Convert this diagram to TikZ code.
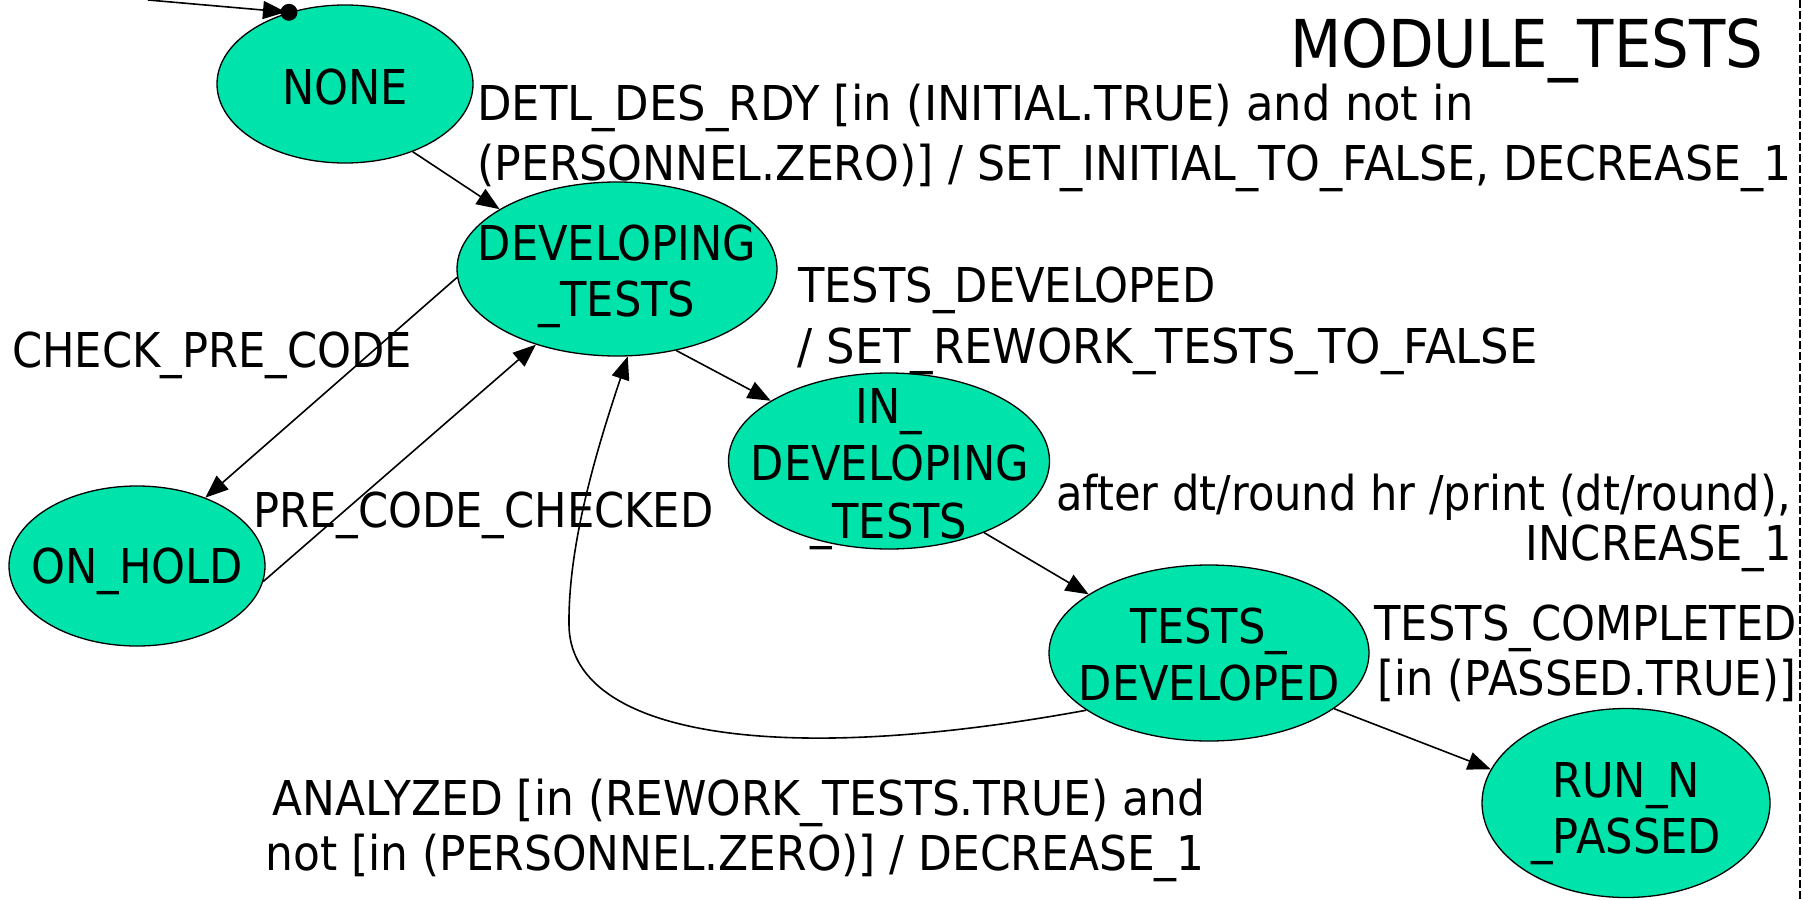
\documentclass[tikz,border=0pt]{standalone}
\usepackage{fontspec}
\setmainfont{DejaVu Sans}[FakeStretch=0.9]
\newfontfamily\lblwide{DejaVu Sans}[FakeStretch=0.935]
\newfontfamily\lbllong{DejaVu Sans}[FakeStretch=0.922]
\newfontfamily\lblmid{DejaVu Sans}[FakeStretch=0.915]
\usetikzlibrary{shapes.geometric,arrows.meta}
\definecolor{stategreen}{RGB}{0,227,170}
\begin{document}
\begin{tikzpicture}[x=1pt,y=-1pt,
  state/.style={ellipse, draw=black, line width=1.3pt, fill=stategreen, inner sep=0pt},
  txt/.style={font=\fontsize{48}{57}\selectfont, inner sep=0pt},
  widetxt/.style={font=\fontsize{48}{57}\lblwide, inner sep=0pt},
  longtxt/.style={font=\fontsize{48}{57}\lbllong, inner sep=0pt},
  midtxt/.style={font=\fontsize{48}{57}\lblmid, inner sep=0pt},
  arr/.style={line width=1.6pt, -{Triangle[length=23pt,width=18pt]}},
  frame/.style={line width=1.2pt, dash pattern=on 8pt off 3pt}
]
\useasboundingbox (0,0) rectangle (1803,899);

% module boundary
\draw[frame] (1800,0) -- (1800,899);

% states
\node[state, minimum width=256pt, minimum height=158pt] (none)  at (345,84)  {};
\node[state, minimum width=320pt, minimum height=174pt] (dev)   at (617,269) {};
\node[state, minimum width=256pt, minimum height=160pt] (hold)  at (137,566) {};
\node[state, minimum width=321pt, minimum height=176pt] (indev) at (889,461) {};
\node[state, minimum width=320pt, minimum height=176pt] (tdev)  at (1209,653) {};
\node[state, minimum width=288pt, minimum height=189pt] (run)   at (1626,803) {};

% state names
\node[txt, anchor=base] (noneA)  at (345,104) {NONE};
\node[txt, anchor=base] (devA)   at (617,260) {DEVELOPING};
\node[txt, anchor=base] (devB)   at (617,316) {\_TESTS};
\node[txt, anchor=base] (holdA)  at (137,583) {ON\_HOLD};
\node[txt, anchor=base] (indevA) at (889,423) {IN\_};
\node[txt, anchor=base] (indevB) at (890,480) {DEVELOPING};
\node[txt, anchor=base] (indevC) at (889,538) {\_TESTS};
\node[txt, anchor=base] (tdevA)  at (1209,643) {TESTS\_};
\node[txt, anchor=base] (tdevB)  at (1209,700) {DEVELOPED};
\node[txt, anchor=base] (runA)   at (1626,797) {RUN\_N};
\node[txt, anchor=base] (runB)   at (1626,853) {\_PASSED};

% title
\node[txt, font=\fontsize{66}{70}\selectfont, anchor=base west] (title) at (1290,67) {MODULE\_TESTS};

% transition labels
\node[widetxt, anchor=base west] (l1a) at (477,120) {DETL\_DES\_RDY [in (INITIAL.TRUE) and not in};
\node[longtxt, anchor=base west] (l1b) at (477,180) {(PERSONNEL.ZERO)] / SET\_INITIAL\_TO\_FALSE, DECREASE\_1};
\node[txt, anchor=base west] (l2a) at (798,302) {TESTS\_DEVELOPED};
\node[widetxt, anchor=base west] (l2b) at (797,363) {/ SET\_REWORK\_TESTS\_TO\_FALSE};
\node[txt, anchor=base west] (l3)  at (12,367)  {CHECK\_PRE\_CODE};
\node[txt, anchor=base west] (l4)  at (253,527) {PRE\_CODE\_CHECKED};
\node[txt, anchor=base east] (l5a) at (1791,510) {after dt/round hr /print (dt/round),};
\node[txt, anchor=base east] (l5b) at (1792,560) {INCREASE\_1};
\node[txt, anchor=base east] (l6a) at (1797,640) {TESTS\_COMPLETED};
\node[txt, anchor=base east] (l6b) at (1796,695) {[in (PASSED.TRUE)]};
\node[midtxt, anchor=base east] (l7a) at (1205,815) {ANALYZED [in (REWORK\_TESTS.TRUE) and};
\node[midtxt, anchor=base east] (l7b) at (1205,870) {not [in (PERSONNEL.ZERO)] / DECREASE\_1};

% initial transition
\coordinate (entry) at (148,0);
\draw[arr, shorten >=3pt] (entry) -- (none.128);
\fill (none.128) circle (8.5pt);

% transitions
\draw[arr] (none.-45) -- (dev.153);
\draw[arr] (dev.183) -- (hold.45);
\draw[arr] (hold.-7) -- (dev.-137);
\draw[arr] (dev.-54) -- (indev.153);
\draw[arr] (indev.-37) -- (tdev.154);
\draw[arr] (tdev.-24) -- (run.166);
\coordinate (loop) at (569,625);
\draw[arr] (tdev.205) .. controls (760,770) and (570,730) .. (loop)
  .. controls (568,540) and (600,440) .. (dev.-83);
\end{tikzpicture}
\end{document}
